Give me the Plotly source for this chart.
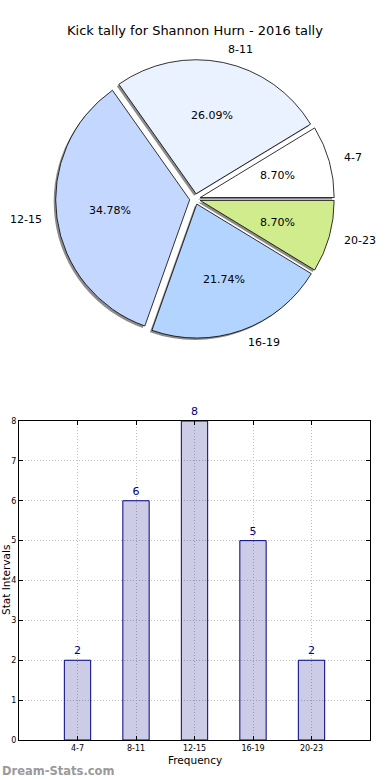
import math
import plotly.graph_objects as go

# ---- data ----
categories = ["4-7", "8-11", "12-15", "16-19", "20-23"]
counts = [2, 6, 8, 5, 2]
pie_colors = ["#FFFFFF", "#EAF2FF", "#C4D8FF", "#B3D4FF", "#D0EC8C"]
title_text = "Kick tally for Shannon Hurn - 2016 tally"

W, H = 390, 780
FONT = "DejaVu Sans"

# pie geometry (pixels)
cx, cy, R = 195, 199, 134
pull = 0.04
half = R * (1 + pull)

def px(x):
    return x / W

def py(y):
    return 1 - y / H

fig = go.Figure()

# slices go counter-clockwise from 3 o'clock (same as drawing the reversed
# order clockwise from 3 o'clock)
rv_counts = counts[::-1]
rv_labels = categories[::-1]
rv_colors = pie_colors[::-1]

# shadow pie
sh = 2
fig.add_trace(go.Pie(
    values=rv_counts, labels=rv_labels, sort=False, direction="clockwise",
    rotation=90, pull=[pull] * len(counts), textinfo="none", hoverinfo="skip",
    marker=dict(colors=["rgba(0,0,0,0.45)"] * len(counts), line=dict(width=0)),
    domain=dict(x=[px(cx - half - sh), px(cx + half - sh)],
                y=[py(cy + half + sh), py(cy - half + sh)]),
    showlegend=False,
))
# main pie
fig.add_trace(go.Pie(
    values=rv_counts, labels=rv_labels, sort=False, direction="clockwise",
    rotation=90, pull=[pull] * len(counts), textinfo="none",
    marker=dict(colors=rv_colors, line=dict(color="black", width=0.8)),
    domain=dict(x=[px(cx - half), px(cx + half)],
                y=[py(cy + half), py(cy - half)]),
    showlegend=False,
))

total = sum(counts)
annotations = []
cum = 0
for lab, v in zip(categories, counts):
    t1 = 360 * cum / total
    cum += v
    t2 = 360 * cum / total
    mid = math.radians((t1 + t2) / 2)
    c, s = math.cos(mid), math.sin(mid)
    # outer label
    d = (1.1 + pull) * R
    annotations.append(dict(
        x=px(cx + d * c), y=py(cy - d * s), xref="paper", yref="paper",
        text=lab, showarrow=False, xanchor="left" if c > 0 else "right",
        yanchor="middle", font=dict(family=FONT, size=11, color="black")))
    # percentage
    d = (0.6 + pull) * R
    annotations.append(dict(
        x=px(cx + d * c), y=py(cy - d * s), xref="paper", yref="paper",
        text=f"{100 * v / total:.2f}%", showarrow=False, xanchor="center",
        yanchor="middle", font=dict(family=FONT, size=11, color="black")))

# bar chart
fig.add_trace(go.Bar(
    x=list(range(len(categories))), y=counts, width=0.45,
    marker=dict(color="rgba(0,0,128,0.2)", line=dict(color="#000080", width=1)),
    text=[str(v) for v in counts], textposition="outside",
    textfont=dict(family=FONT, size=11, color="#000080"),
    cliponaxis=False, showlegend=False, xaxis="x", yaxis="y",
))

annotations.append(dict(
    x=px(6), y=py(580), xref="paper", yref="paper", text="Stat Intervals",
    textangle=-90, showarrow=False, xanchor="center", yanchor="middle",
    font=dict(family=FONT, size=10.5, color="black")))
annotations.append(dict(
    x=px(195), y=py(760), xref="paper", yref="paper", text="Frequency",
    showarrow=False, xanchor="center", yanchor="middle",
    font=dict(family=FONT, size=10.5, color="black")))
annotations.append(dict(
    x=px(0), y=py(771), xref="paper", yref="paper", text="<b>Dream-Stats.com</b>",
    showarrow=False, xanchor="left", yanchor="middle",
    font=dict(family=FONT, size=11.5, color="#9a9a9a")))

axis_common = dict(
    tickfont=dict(family=FONT, size=8, color="black"), ticks="inside", ticklen=4,
    tickcolor="black", showline=True, linecolor="black", linewidth=1,
    mirror="allticks", showgrid=True, gridcolor="#bfbfbf", griddash="1px,2px",
    gridwidth=1, zeroline=False, fixedrange=True, automargin=False,
)

fig.update_layout(
    width=W, height=H, margin=dict(l=0, r=0, t=0, b=0, autoexpand=False),
    paper_bgcolor="white", plot_bgcolor="white",
    title=dict(text=title_text, x=0.5, xanchor="center", y=py(30), yanchor="middle",
               font=dict(family=FONT, size=13, color="black")),
    font=dict(family=FONT, color="black"),
    annotations=annotations,
    xaxis=dict(
        domain=[px(19), px(370)], range=[-1, 5],
        tickmode="array", tickvals=list(range(len(categories))), ticktext=categories,
        **axis_common,
    ),
    yaxis=dict(
        domain=[py(740), py(421)], range=[0, 8], dtick=1,
        **axis_common,
    ),
)

fig.write_html("out.html", config={"displayModeBar": False},
               post_script="document.body.style.margin='0';")
